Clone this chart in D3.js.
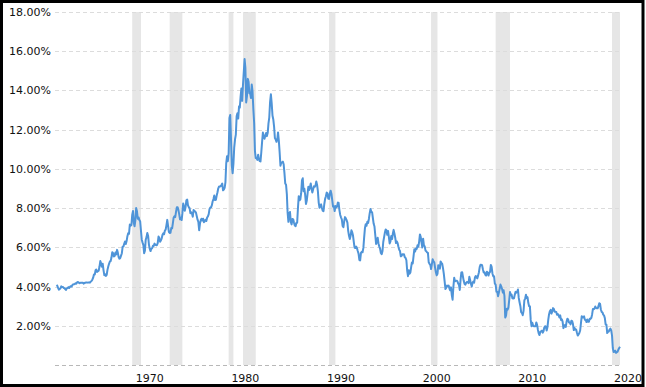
<!DOCTYPE html>
<html>
<head>
<meta charset="utf-8">
<script src="https://cdn.jsdelivr.net/npm/d3@7"></script>
<style>
  body { margin: 0; background: #fff; }
  svg { display: block; }
</style>
</head>
<body>
<svg id="chart" width="646" height="387"></svg>
<script>
// 10 year treasury yield, monthly, Jan 1962 - Dec 2020 (%)
const startYear = 1962;
const yields = [
  4.08,4.04,3.93,3.84,3.87,3.91,4.01,3.98,3.98,3.93,3.92,3.86,
  3.83,3.92,3.93,3.97,3.93,3.99,4.02,4.00,4.08,4.11,4.12,4.13,
  4.17,4.15,4.22,4.23,4.20,4.17,4.19,4.19,4.20,4.19,4.15,4.18,
  4.19,4.21,4.21,4.20,4.21,4.21,4.20,4.25,4.29,4.35,4.45,4.62,
  4.61,4.83,4.87,4.75,4.78,4.81,5.02,5.30,5.18,5.01,5.16,4.84,
  4.58,4.63,4.54,4.59,4.85,5.02,5.16,5.28,5.30,5.48,5.75,5.70,
  5.53,5.56,5.74,5.64,5.87,5.72,5.50,5.42,5.46,5.58,5.70,6.03,
  6.04,6.19,6.30,6.17,6.32,6.57,6.72,6.69,7.16,7.10,7.14,7.65,
  7.85,7.24,7.07,7.39,8.00,7.84,7.46,7.53,7.39,7.33,6.84,6.39,
  6.24,6.11,5.70,5.83,6.39,6.52,6.73,6.58,6.14,5.93,5.81,5.93,
  5.95,6.08,6.07,6.19,6.13,6.11,6.11,6.21,6.55,6.48,6.28,6.36,
  6.46,6.64,6.71,6.67,6.85,6.90,7.13,7.40,7.09,6.79,6.73,6.74,
  6.99,6.96,7.21,7.51,7.58,7.54,7.81,8.04,8.04,7.90,7.68,7.43,
  7.50,7.39,7.73,8.23,8.06,7.86,8.06,8.40,8.43,8.14,8.05,8.00,
  7.74,7.79,7.73,7.56,7.90,7.86,7.83,7.77,7.59,7.41,7.29,6.87,
  7.21,7.39,7.46,7.37,7.46,7.28,7.33,7.40,7.34,7.52,7.58,7.69,
  7.96,8.03,8.04,8.15,8.35,8.46,8.64,8.41,8.42,8.64,8.81,9.01,
  9.10,9.10,9.12,9.18,9.25,8.91,8.95,9.03,9.33,10.30,10.65,10.39,
  10.80,12.60,12.75,11.47,10.18,9.78,10.25,11.10,11.51,11.75,12.68,12.84,
  12.57,13.19,13.12,13.68,14.10,13.47,14.28,14.94,15.60,15.15,13.39,13.72,
  14.59,14.43,13.86,13.87,13.62,14.30,13.95,13.06,12.34,10.91,10.55,10.54,
  10.46,10.72,10.51,10.40,10.38,10.85,11.38,11.85,11.65,11.54,11.69,11.83,
  11.67,11.84,12.32,12.63,13.41,13.80,13.36,12.72,12.52,12.16,11.57,11.50,
  11.38,11.51,11.86,11.43,10.85,10.16,10.31,10.33,10.37,10.24,9.78,9.26,
  9.19,8.70,7.78,7.30,7.71,7.80,7.30,7.17,7.45,7.43,7.25,7.11,
  7.08,7.25,7.25,8.02,8.61,8.40,8.45,8.76,9.42,9.52,8.86,8.99,
  8.67,8.21,8.37,8.72,9.09,8.92,9.06,9.26,8.98,8.80,8.96,9.11,
  9.09,9.17,9.36,9.18,8.86,8.28,8.02,8.11,8.19,8.01,7.87,7.84,
  8.21,8.47,8.59,8.79,8.76,8.48,8.47,8.75,8.89,8.72,8.39,8.08,
  8.09,7.85,8.11,8.04,8.07,8.28,8.27,7.90,7.65,7.53,7.42,7.09,
  7.03,7.34,7.54,7.48,7.39,7.26,6.84,6.59,6.42,6.59,6.87,6.77,
  6.60,6.26,5.98,5.97,6.04,5.96,5.81,5.68,5.36,5.33,5.72,5.77,
  5.75,5.97,6.48,6.97,7.18,7.10,7.30,7.24,7.46,7.74,7.96,7.81,
  7.78,7.47,7.20,7.06,6.63,6.17,6.28,6.49,6.20,6.04,5.93,5.71,
  5.65,5.81,6.27,6.51,6.74,6.91,6.87,6.64,6.83,6.53,6.20,6.30,
  6.58,6.42,6.69,6.89,6.71,6.49,6.22,6.30,6.21,6.03,5.88,5.81,
  5.54,5.57,5.65,5.64,5.65,5.50,5.46,5.34,4.81,4.53,4.83,4.65,
  4.72,5.00,5.23,5.18,5.54,5.90,5.79,5.94,5.92,6.11,6.03,6.28,
  6.66,6.52,6.26,5.99,6.44,6.10,6.05,5.83,5.80,5.74,5.72,5.24,
  5.16,5.10,4.89,5.14,5.39,5.28,5.24,4.97,4.73,4.57,4.65,5.09,
  5.04,4.91,5.28,5.21,5.16,4.93,4.65,4.26,3.87,3.94,4.05,4.03,
  4.05,3.90,3.81,3.96,3.57,3.33,3.98,4.45,4.27,4.29,4.30,4.27,
  4.15,4.08,3.83,4.35,4.72,4.73,4.50,4.28,4.13,4.10,4.19,4.23,
  4.22,4.17,4.50,4.34,4.14,4.00,4.18,4.26,4.20,4.46,4.54,4.47,
  4.42,4.57,4.72,4.99,5.11,5.11,5.09,4.88,4.72,4.73,4.60,4.56,
  4.76,4.72,4.56,4.69,4.75,5.10,5.00,4.67,4.52,4.53,4.15,4.10,
  3.74,3.74,3.51,3.68,3.88,4.10,4.01,3.89,3.69,3.81,3.53,2.42,
  2.52,2.87,2.82,2.93,3.29,3.72,3.56,3.59,3.40,3.39,3.40,3.59,
  3.73,3.69,3.73,3.85,3.42,3.20,3.01,2.70,2.65,2.54,2.76,3.29,
  3.39,3.58,3.41,3.46,3.17,3.00,3.00,2.30,1.98,2.15,2.01,1.98,
  1.97,1.97,2.17,2.05,1.80,1.62,1.53,1.68,1.72,1.75,1.65,1.72,
  1.91,1.98,1.96,1.76,1.93,2.30,2.58,2.74,2.81,2.62,2.72,2.90,
  2.86,2.71,2.72,2.71,2.56,2.60,2.54,2.42,2.53,2.30,2.33,2.21,
  1.88,1.98,2.04,1.94,2.20,2.36,2.32,2.17,2.17,2.07,2.26,2.24,
  2.09,1.78,1.89,1.81,1.81,1.64,1.50,1.56,1.63,1.76,2.14,2.49,
  2.43,2.42,2.48,2.30,2.30,2.19,2.32,2.21,2.20,2.36,2.35,2.40,
  2.58,2.86,2.84,2.87,2.98,2.91,2.89,2.89,3.00,3.15,3.12,2.83,
  2.71,2.68,2.57,2.53,2.40,2.07,2.06,1.63,1.70,1.71,1.81,1.86,
  1.76,1.50,0.87,0.66,0.67,0.73,0.62,0.65,0.68,0.79,0.87,0.93
];

// shaded periods (recessions), [start, end] as "YYYY-MM"
const recessions = [
  ["1969-12", "1970-11"],
  ["1973-11", "1975-03"],
  ["1980-01", "1980-07"],
  ["1981-07", "1982-11"],
  ["1990-07", "1991-03"],
  ["2001-03", "2001-11"],
  ["2007-12", "2009-06"],
  ["2020-02", "2020-12"]
];

const yTicks = [2, 4, 6, 8, 10, 12, 14, 16, 18];
const xTickYears = [1970, 1980, 1990, 2000, 2010, 2020];

const svg = d3.select('#chart');
const plotLeft = 56.5, plotRight = 620, plotTop = 12, plotBottom = 365;

const parseMonth = d3.timeParse('%Y-%m');
const data = yields.map((v, i) => ({
  date: new Date(startYear + Math.floor(i / 12), i % 12, 1),
  value: v
}));

const x = d3.scaleTime()
  .domain([new Date(startYear, 0, 1), new Date(2020, 11, 1)])
  .range([plotLeft, plotRight]);
const y = d3.scaleLinear()
  .domain([0, 18])
  .range([plotBottom, plotTop]);

// shaded bands
svg.append('g')
  .selectAll('rect')
  .data(recessions)
  .enter().append('rect')
  .attr('x', d => x(parseMonth(d[0])))
  .attr('width', d => x(parseMonth(d[1])) - x(parseMonth(d[0])))
  .attr('y', y(18))
  .attr('height', y(0) - y(18))
  .attr('fill', '#e6e6e6');

// grid lines
svg.append('g')
  .selectAll('line')
  .data(yTicks)
  .enter().append('line')
  .attr('x1', 55).attr('x2', plotRight)
  .attr('y1', d => Math.round(y(d)) + 0.5)
  .attr('y2', d => Math.round(y(d)) + 0.5)
  .attr('stroke', '#dcdcdc')
  .attr('stroke-width', 1)
  .attr('stroke-dasharray', '4,3');

svg.append('line')
  .attr('x1', 55).attr('x2', plotRight)
  .attr('y1', Math.round(y(0)) + 0.5)
  .attr('y2', Math.round(y(0)) + 0.5)
  .attr('stroke', '#b8b8b8')
  .attr('stroke-width', 1)
  .attr('stroke-dasharray', '4,3');

// y labels
svg.append('g')
  .selectAll('text')
  .data(yTicks)
  .enter().append('text')
  .attr('x', 51)
  .attr('y', d => y(d) + 4)
  .attr('text-anchor', 'end')
  .attr('font-family', 'DejaVu Sans, Verdana, sans-serif')
  .attr('font-size', '11px')
  .attr('fill', '#111')
  .text(d => d3.format('.2f')(d) + '%');

// x labels (placed where the source draws them)
svg.append('g')
  .selectAll('text')
  .data(xTickYears)
  .enter().append('text')
  .attr('x', d => x(new Date(d + 1, 9, 1)))
  .attr('y', 382)
  .attr('text-anchor', 'middle')
  .attr('font-family', 'DejaVu Sans, Verdana, sans-serif')
  .attr('font-size', '11px')
  .attr('fill', '#111')
  .text(d => d);

// yield line
const line = d3.line()
  .x(d => x(d.date))
  .y(d => y(d.value));

svg.append('path')
  .datum(data)
  .attr('d', line)
  .attr('fill', 'none')
  .attr('stroke', '#4f94d8')
  .attr('stroke-width', 2)
  .attr('stroke-linejoin', 'round');

// outer frame
svg.append('rect')
  .attr('x', 1.5).attr('y', 1.5)
  .attr('width', 641.5).attr('height', 384)
  .attr('fill', 'none')
  .attr('stroke', '#000')
  .attr('stroke-width', 3);
</script>
</body>
</html>
